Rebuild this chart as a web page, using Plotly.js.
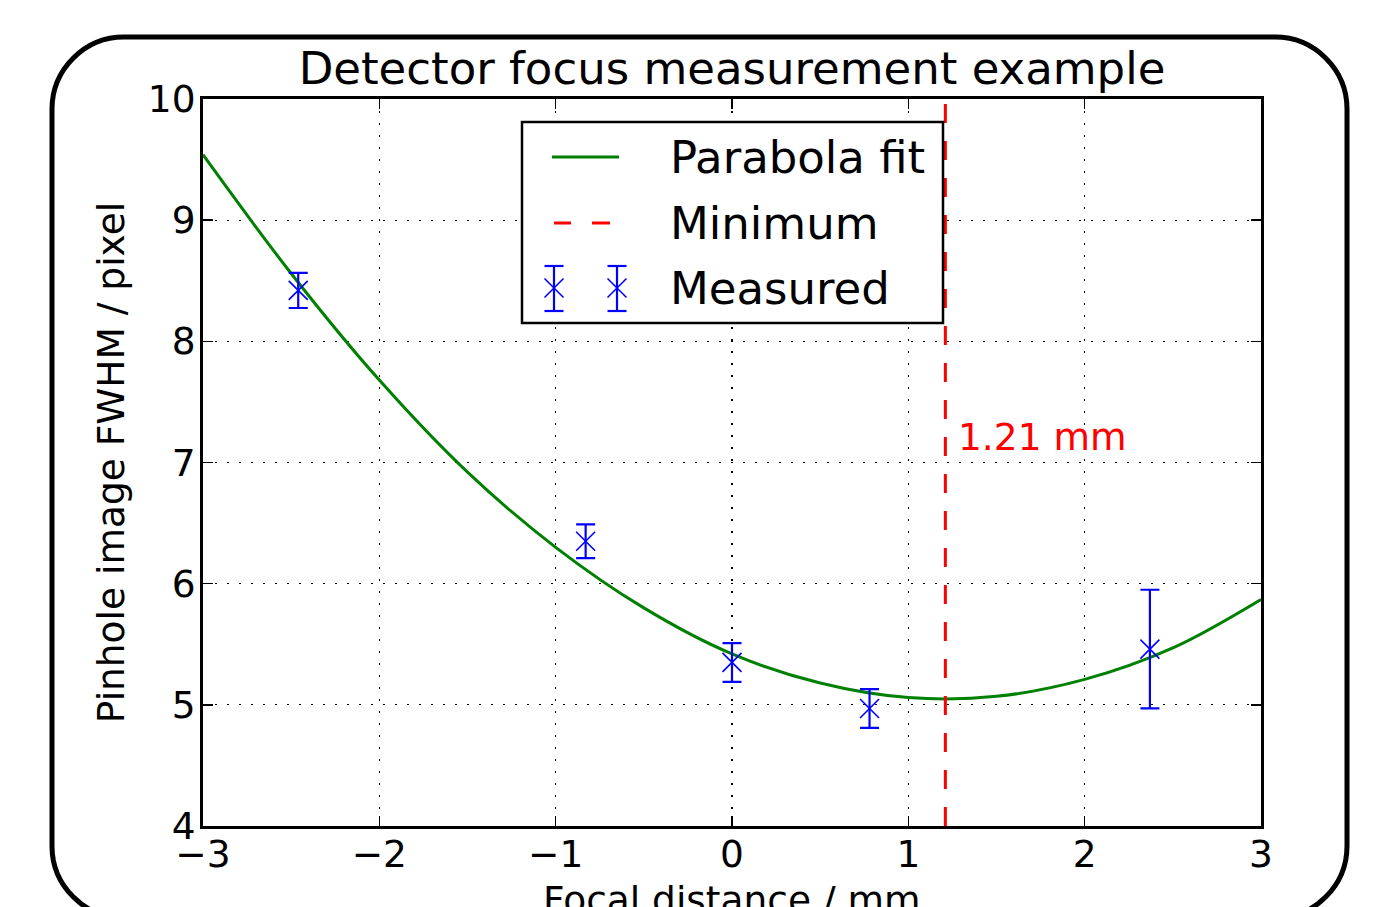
<!DOCTYPE html>
<html>
<head>
<meta charset="utf-8">
<script src="https://cdn.plot.ly/plotly-3.0.1.min.js"></script>
<style>html,body{margin:0;padding:0;background:#fff;}#chart{width:1379px;height:907px;}</style>
</head>
<body>
<div id="chart"></div>
<script>
// ---- data ----
const measuredX = [-2.46, -0.83, 0.0, 0.78, 2.37];
const measuredY = [8.42, 6.35, 5.35, 4.97, 5.46];
const measuredErr = [0.145, 0.14, 0.16, 0.16, 0.49];

const fitX = [-3, -2.5, -2, -1.5, -1, -0.5, 0, 0.5, 1, 1.5, 2, 2.5, 3];
const fitY = [9.54, 8.56, 7.68, 6.92, 6.30, 5.80, 5.42, 5.18, 5.06, 5.07, 5.21, 5.47, 5.87];

const minimumX = [1.21];
const yRange = [4, 10];
const xRange = [-3, 3];
const xTicks = [-3, -2, -1, 0, 1, 2, 3];
const yTicks = [4, 5, 6, 7, 8, 9, 10];

const legendLabels = ['Parabola fit', 'Minimum', 'Measured'];
const titleText = 'Detector focus measurement example';
const xLabel = 'Focal distance / mm';
const yLabel = 'Pinhole image FWHM / pixel';

// ---- layout geometry (pixels) ----
const W = 1379, H = 907;
const M = {l: 203, r: 118, t: 99, b: 81};
const PW = W - M.l - M.r, PH = H - M.t - M.b;
const px = x => (x - M.l) / PW;
const py = y => (H - M.b - y) / PH;

const FONT = 'DejaVu Sans, Liberation Sans, sans-serif';
const BLUE = '#0000ff', GREEN = '#008000', RED = '#ff0000';

const traces = [
  {x: fitX, y: fitY, mode: 'lines', line: {color: GREEN, width: 3, shape: 'spline', smoothing: 1},
   showlegend: false, hoverinfo: 'skip'},
  {x: [minimumX[0], minimumX[0]], y: yRange, mode: 'lines',
   line: {color: RED, width: 3, dash: '19px,18px'}, showlegend: false, hoverinfo: 'skip'},
  {x: measuredX, y: measuredY, mode: 'markers',
   marker: {symbol: 'x-thin', size: 19, color: BLUE, line: {color: BLUE, width: 1.6}},
   error_y: {type: 'data', array: measuredErr, visible: true, color: BLUE, thickness: 2.2, width: 9.5},
   showlegend: false}
];

// rounded frame around the figure
function roundRect(x0, y0, x1, y1, r) {
  const k = 0.55 * r;
  const P = (x, y) => px(x).toFixed(5) + ',' + py(y).toFixed(5);
  return 'M' + P(x0 + r, y0) + ' L' + P(x1 - r, y0) +
    ' C' + P(x1 - r + k, y0) + ' ' + P(x1, y0 + r - k) + ' ' + P(x1, y0 + r) +
    ' L' + P(x1, y1 - r) +
    ' C' + P(x1, y1 - r + k) + ' ' + P(x1 - r + k, y1) + ' ' + P(x1 - r, y1) +
    ' L' + P(x0 + r, y1) +
    ' C' + P(x0 + r - k, y1) + ' ' + P(x0, y1 - r + k) + ' ' + P(x0, y1 - r) +
    ' L' + P(x0, y0 + r) +
    ' C' + P(x0, y0 + r - k) + ' ' + P(x0 + r - k, y0) + ' ' + P(x0 + r, y0) + ' Z';
}

const shapes = [];
shapes.push({type: 'path', xref: 'paper', yref: 'paper', path: roundRect(52, 37, 1347, 918, 72),
  line: {color: '#000', width: 5}, fillcolor: 'rgba(0,0,0,0)', layer: 'below'});

// legend box
const L = {x0: 522, x1: 943, y0: 122, y1: 323};
shapes.push({type: 'rect', xref: 'paper', yref: 'paper', x0: px(L.x0), x1: px(L.x1), y0: py(L.y1), y1: py(L.y0),
  line: {color: '#000', width: 2.5}, fillcolor: '#fff', layer: 'above'});
const row = [157, 223, 288];
// parabola handle
shapes.push({type: 'line', xref: 'paper', yref: 'paper', x0: px(552), x1: px(619), y0: py(row[0]), y1: py(row[0]),
  line: {color: GREEN, width: 3}});
// minimum handle (two dashes)
[[554, 571], [592, 610]].forEach(d => shapes.push({type: 'line', xref: 'paper', yref: 'paper',
  x0: px(d[0]), x1: px(d[1]), y0: py(row[1]), y1: py(row[1]), line: {color: RED, width: 3}}));
// measured handle (two error-bar markers)
[554, 617].forEach(cx => {
  const t = 266, b = 311, c = row[2], h = 9.5, m = 9.5;
  const seg = (a, bb, c2, d) => shapes.push({type: 'line', xref: 'paper', yref: 'paper',
    x0: px(a), y0: py(bb), x1: px(c2), y1: py(d), line: {color: BLUE, width: 2.2}});
  seg(cx, t, cx, b);
  seg(cx - h, t, cx + h, t);
  seg(cx - h, b, cx + h, b);
  shapes.push({type: 'line', xref: 'paper', yref: 'paper', x0: px(cx - m), y0: py(c - m), x1: px(cx + m), y1: py(c + m), line: {color: BLUE, width: 1.6}});
  shapes.push({type: 'line', xref: 'paper', yref: 'paper', x0: px(cx - m), y0: py(c + m), x1: px(cx + m), y1: py(c - m), line: {color: BLUE, width: 1.6}});
});

const annotations = legendLabels.map((t, i) => ({
  text: t, xref: 'paper', yref: 'paper', x: px(668), y: py(row[i]), xanchor: 'left', yanchor: 'middle',
  showarrow: false, font: {family: FONT, size: 45, color: '#000'}
}));
annotations.push({
  text: minimumX[0].toFixed(2) + ' mm', xref: 'x', yref: 'y', x: 1.27, y: 7.21,
  xanchor: 'left', yanchor: 'middle', showarrow: false, font: {family: FONT, size: 37.5, color: RED}
});
// x axis title (placed so that it is cut by the bottom edge like the reference)
annotations.push({
  text: xLabel, xref: 'paper', yref: 'paper', x: 0.5, y: py(876), xanchor: 'center', yanchor: 'top',
  showarrow: false, font: {family: FONT, size: 37.5, color: '#000'}
});

const axisCommon = {
  showline: true, linecolor: '#000', linewidth: 3, mirror: 'allticks',
  ticks: 'inside', ticklen: 10, tickwidth: 1.5, tickcolor: '#000',
  showgrid: true, gridcolor: '#000', gridwidth: 1.3, griddash: '2px,10px',
  zeroline: false, tickfont: {family: FONT, size: 37.5, color: '#000'}, fixedrange: true
};

const layout = {
  width: W, height: H, margin: M, paper_bgcolor: '#fff', plot_bgcolor: '#fff',
  showlegend: false,
  title: {text: titleText, font: {family: FONT, size: 45, color: '#000'},
    x: 0.5, xref: 'paper', y: 1 - 68 / H, yref: 'container', yanchor: 'middle'},
  xaxis: Object.assign({}, axisCommon, {range: xRange, tickvals: xTicks, ticklabelstandoff: -7}),
  yaxis: Object.assign({}, axisCommon, {range: yRange, tickvals: yTicks, ticklabelstandoff: -3,
    title: {text: yLabel, font: {family: FONT, size: 37.5, color: '#000'}, standoff: 12}}),
  shapes: shapes, annotations: annotations
};

Plotly.newPlot('chart', traces, layout, {staticPlot: true, displayModeBar: false});
</script>
</body>
</html>
